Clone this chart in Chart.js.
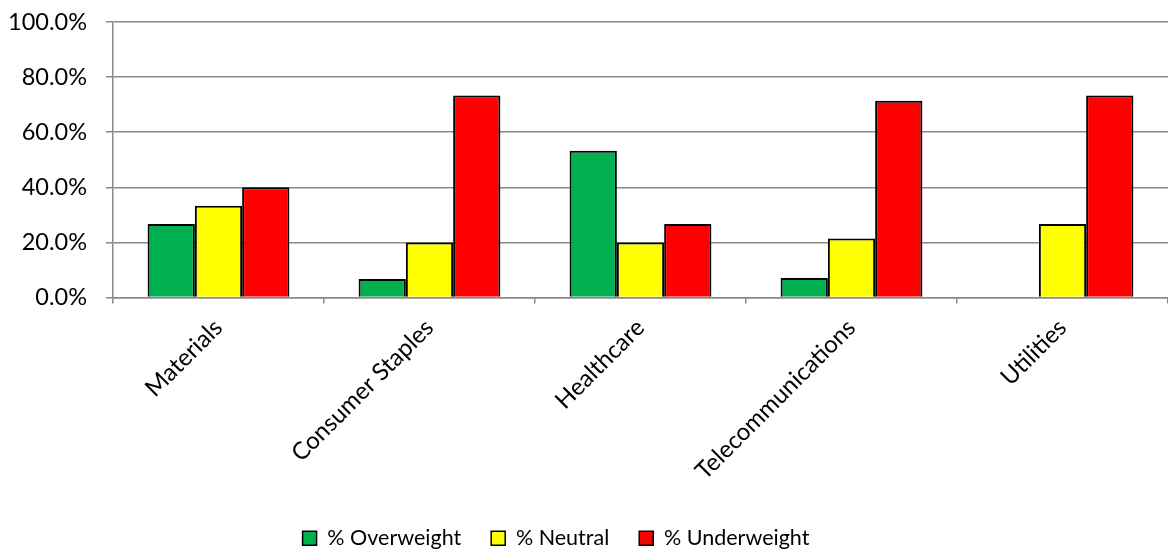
<!DOCTYPE html>
<html>
<head>
<meta charset="utf-8">
<script src="https://cdn.jsdelivr.net/npm/chart.js@4"></script>
<style>
  html, body { margin: 0; padding: 0; background: #fff; }
  #wrap { width: 1168px; height: 551px; }
</style>
</head>
<body>
<div id="wrap"><canvas id="chart"></canvas></div>
<script>
// sector categories and allocation shares (%)
const sectors = ['Materials', 'Consumer Staples', 'Healthcare', 'Telecommunications', 'Utilities'];
const overweight = [26.7, 6.7, 53.3, 7.1, 0];
const neutral = [33.3, 20.0, 20.0, 21.4, 26.7];
const underweight = [40.0, 73.3, 26.7, 71.4, 73.3];
const yTicks = [0, 20, 40, 60, 80, 100];

const fontFamily = 'Lato, "Open Sans", sans-serif';
const gridColor = '#8a8a8a';

function series(label, values, color) {
    return {
        label: label,
        data: values,
        backgroundColor: color,
        borderColor: '#000',
        borderWidth: 2,
        borderSkipped: 'bottom',
        categoryPercentage: 0.672,
        barPercentage: 1.0
    };
}

// nudge the legend row down/left a little, like the Excel original
const legendNudge = {
    id: 'legendNudge',
    afterLayout(chart) {
        const lg = chart.legend;
        lg.top += 10; lg.bottom += 10;
        lg.left -= 33; lg.right -= 33;
    }
};

new Chart(document.getElementById('chart').getContext('2d'), {
    type: 'bar',
    data: {
        labels: sectors,
        datasets: [
            series('% Overweight', overweight, '#00b050'),
            series('% Neutral', neutral, '#ffff00'),
            series('% Underweight', underweight, '#ff0000')
        ]
    },
    plugins: [legendNudge],
    options: {
        responsive: true,
        maintainAspectRatio: false,
        animation: false,
        layout: { padding: { top: 22, left: 10, right: 0, bottom: 2 } },
        scales: {
            y: {
                min: 0,
                max: 100,
                afterBuildTicks: (axis) => { axis.ticks = yTicks.map(v => ({ value: v })); },
                afterFit: (scale) => {
                    scale.width = 103;
                    scale.paddingTop = 0;
                    scale.paddingBottom = 0;
                },
                ticks: {
                    color: '#000',
                    font: { family: fontFamily, size: 23.5 },
                    padding: 19,
                    callback: (v) => v.toFixed(1) + '%'
                },
                grid: { color: gridColor, lineWidth: 1.5, tickLength: 7 },
                border: { color: gridColor, width: 1.5 }
            },
            x: {
                afterFit: (scale) => { scale.height = 190; },
                ticks: {
                    color: '#000',
                    font: { family: fontFamily, size: 24 },
                    minRotation: 45,
                    maxRotation: 45,
                    padding: 10
                },
                grid: { drawOnChartArea: false, color: gridColor, lineWidth: 1.5, tickLength: 6 },
                border: { color: gridColor, width: 1.5 }
            }
        },
        plugins: {
            legend: {
                position: 'bottom',
                labels: {
                    color: '#000',
                    font: { family: fontFamily, size: 21.5 },
                    boxWidth: 14,
                    boxHeight: 14,
                    padding: 30,
                    generateLabels: (chart) => Chart.defaults.plugins.legend.labels.generateLabels(chart)
                        .map(item => Object.assign(item, { lineWidth: 1.5 }))
                }
            },
            tooltip: { enabled: false }
        }
    }
});
</script>
</body>
</html>
